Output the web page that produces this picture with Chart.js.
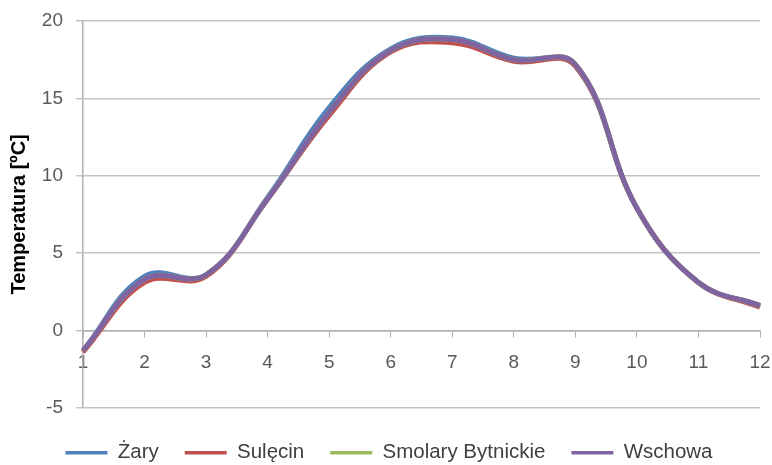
<!DOCTYPE html>
<html>
<head>
<meta charset="utf-8">
<script src="https://cdn.jsdelivr.net/npm/chart.js@4"></script>
<style>
  html, body { margin: 0; padding: 0; background: #fff; }
  #wrap { width: 772px; height: 465px; }
</style>
</head>
<body>
<div id="wrap"><canvas id="c" width="772" height="465"></canvas></div>
<script>
const months = ['1','2','3','4','5','6','7','8','9','10','11','12'];
const zary     = [-1.3, 3.5, 3.6, 8.6, 14.4, 18.2, 18.9, 17.6, 17.1, 7.9, 3.1, 1.6];
const sulecin  = [-1.4, 3.1, 3.5, 8.5, 13.9, 18.0, 18.6, 17.4, 17.1, 7.9, 3.1, 1.5];
const smolary  = [-1.3, 3.3, 3.6, 8.5, 14.1, 18.1, 18.8, 17.5, 17.2, 7.9, 3.1, 1.6];
const wschowa  = [-1.3, 3.3, 3.6, 8.5, 14.1, 18.1, 18.8, 17.5, 17.2, 7.9, 3.1, 1.6];
const seriesNames = ['Żary', 'Sulęcin', 'Smolary Bytnickie', 'Wschowa'];
const seriesColors = ['#4F81BD', '#C0504D', '#9BBB59', '#8064A2'];
const yTicks = { min: -5, max: 20, step: 5 };

const FONT = 'Liberation Sans, Arial, sans-serif';
const allData = [zary, sulecin, smolary, wschowa];

const datasets = allData.map((d, i) => ({
  label: seriesNames[i],
  data: d,
  borderColor: seriesColors[i],
  backgroundColor: seriesColors[i],
  borderWidth: 5,
  pointRadius: 0,
  tension: 0.4,
  fill: false,
  order: allData.length - i
}));

const legendShift = {
  id: 'legendShift',
  afterLayout(chart) {
    if (chart.legend) { chart.legend.left += 9; chart.legend.right += 9; }
  }
};

new Chart(document.getElementById('c'), {
  type: 'line',
  data: { labels: months, datasets },
  plugins: [legendShift],
  options: {
    responsive: false,
    animation: false,
    layout: { padding: { left: 0, right: 12, top: 21, bottom: -8 } },
    plugins: {
      tooltip: { enabled: false },
      legend: {
        position: 'bottom',
        title: { display: true, text: '', padding: { top: 1, bottom: 0.5 }, font: { size: 6 } },
        labels: {
          boxWidth: 42,
          boxHeight: 3.5,
          padding: 26,
          color: '#404040',
          font: { family: FONT, size: 20.5 },
          sort: (a, b) => a.datasetIndex - b.datasetIndex,
          generateLabels: (chart) => {
            const items = Chart.defaults.plugins.legend.labels.generateLabels(chart);
            items.forEach(it => { it.lineWidth = 0; it.fillStyle = seriesColors[it.datasetIndex]; it.strokeStyle = 'rgba(0,0,0,0)'; });
            return items;
          }
        }
      }
    },
    scales: {
      x: {
        type: 'category',
        offset: false,
        position: { y: 0 },
        afterFit: (s) => { s.paddingLeft = 0; s.paddingRight = 0; },
        grid: { display: true, drawOnChartArea: false, drawTicks: true, tickLength: 6, color: '#b0b0b0' },
        border: { display: true, color: '#b0b0b0', width: 1.5 },
        ticks: { color: '#595959', font: { family: FONT, size: 19 }, padding: 15, maxRotation: 0, autoSkip: false }
      },
      y: {
        min: yTicks.min,
        max: yTicks.max,
        afterFit: (s) => { s.width = 83; s.paddingTop = 0; s.paddingBottom = 0; },
        ticks: { stepSize: yTicks.step, color: '#595959', font: { family: FONT, size: 19 }, padding: 13 },
        grid: { color: '#c4c4c4', lineWidth: 1.5, tickLength: 7 },
        border: { display: true, color: '#b0b0b0', width: 1.5 },
        title: {
          display: true,
          text: 'Temperatura [ºC]',
          color: '#000',
          font: { family: FONT, size: 20, weight: 'bold' },
          padding: { top: 7, bottom: 0 }
        }
      }
    }
  }
});
</script>
</body>
</html>
